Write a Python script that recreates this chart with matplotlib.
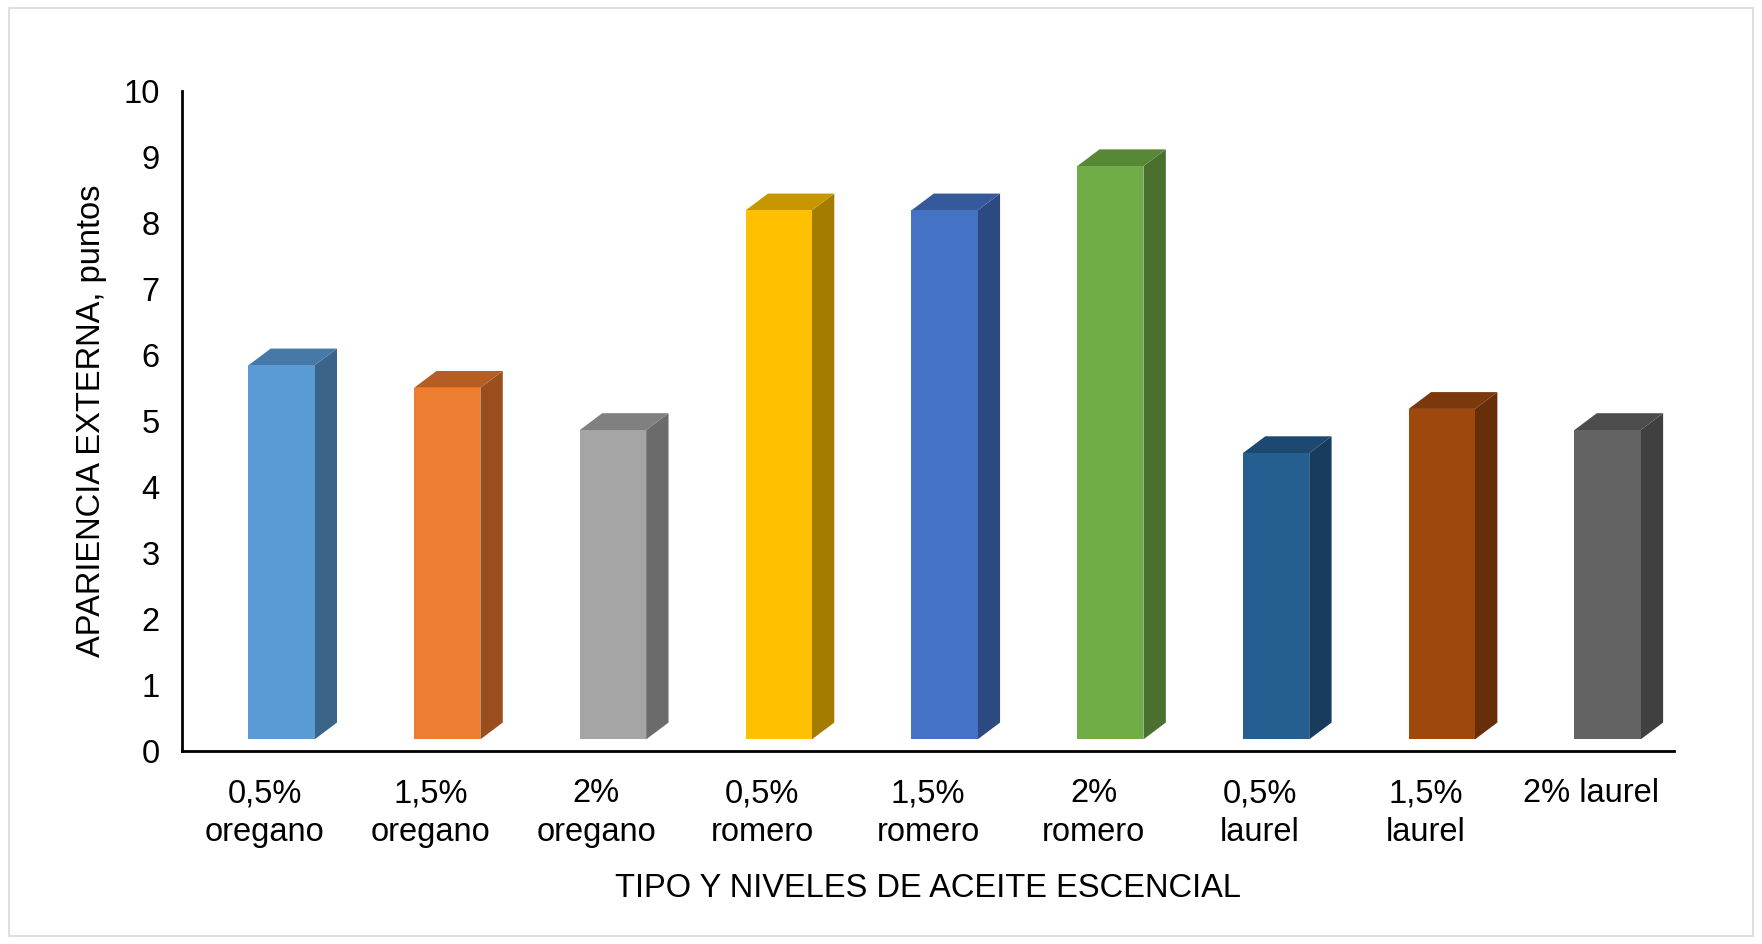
import matplotlib
matplotlib.use("Agg")
import matplotlib.pyplot as plt
from matplotlib.patches import Polygon, Rectangle
import numpy as np

plt.rcParams['font.family'] = ['Liberation Sans', 'DejaVu Sans']

categories = ["0,5%\noregano", "1,5%\noregano", "2%\noregano", "0,5%\nromero",
              "1,5%\nromero", "2%\nromero", "0,5%\nlaurel", "1,5%\nlaurel", "2% laurel"]
values = [5.84, 5.50, 4.86, 8.19, 8.19, 8.86, 4.51, 5.18, 4.86]
front_colors = ["#5B9BD5", "#ED7D31", "#A5A5A5", "#FFC000", "#4472C4",
                "#70AD47", "#255E91", "#9E480E", "#636363"]
side_colors = ["#3A6589", "#9A4E1E", "#6B6B6B", "#A67C00", "#2C4A80",
               "#49702E", "#183C5E", "#662F09", "#404040"]
top_colors = ["#4679A7", "#B55D22", "#808080", "#C79600", "#35599A",
              "#578737", "#1D4971", "#7B380B", "#4D4D4D"]

FS = 23.5

fig = plt.figure(figsize=(17.62, 9.44), dpi=100)
ax = fig.add_axes([0.1033, 0.2049, 0.8467, 0.6987])

# chart border
fig.patches.append(Rectangle((0.005, 0.008), 0.99, 0.984, transform=fig.transFigure,
                             fill=False, edgecolor="#D9D9D9", linewidth=1.2))

x = np.arange(len(categories))
width = 0.40
shift = 0.10
floor = 0.17
dx = 0.135
dy = 0.255

for i, v in enumerate(values):
    left = x[i] + shift - width / 2
    right = left + width
    # front face
    ax.bar(left, v - floor, width=width, bottom=floor, align='edge',
           color=front_colors[i], edgecolor='none', zorder=3)
    # side face
    ax.add_patch(Polygon([(right, floor), (right + dx, floor + dy), (right + dx, v + dy), (right, v)],
                         closed=True, facecolor=side_colors[i], edgecolor='none', zorder=2))
    # top face
    ax.add_patch(Polygon([(left, v), (left + dx, v + dy), (right + dx, v + dy), (right, v)],
                         closed=True, facecolor=top_colors[i], edgecolor='none', zorder=2))

ax.set_xlim(-0.5, 8.5)
ax.set_ylim(0, 10)
ax.set_yticks(range(0, 11))
ax.set_xticks(x)
ax.set_xticklabels(categories, fontsize=FS, linespacing=1.3, va='top')
ax.tick_params(axis='y', labelsize=FS, length=0, pad=16)
ax.tick_params(axis='x', length=0, pad=20)

for s in ['top', 'right']:
    ax.spines[s].set_visible(False)
for s in ['left', 'bottom']:
    ax.spines[s].set_linewidth(2)
    ax.spines[s].set_color('black')

ax.set_ylabel("APARIENCIA EXTERNA, puntos", fontsize=FS, labelpad=12)
ax.set_xlabel("TIPO Y NIVELES DE ACEITE ESCENCIAL", fontsize=FS, labelpad=18)

fig.savefig("out.png", dpi=100, facecolor="white")
